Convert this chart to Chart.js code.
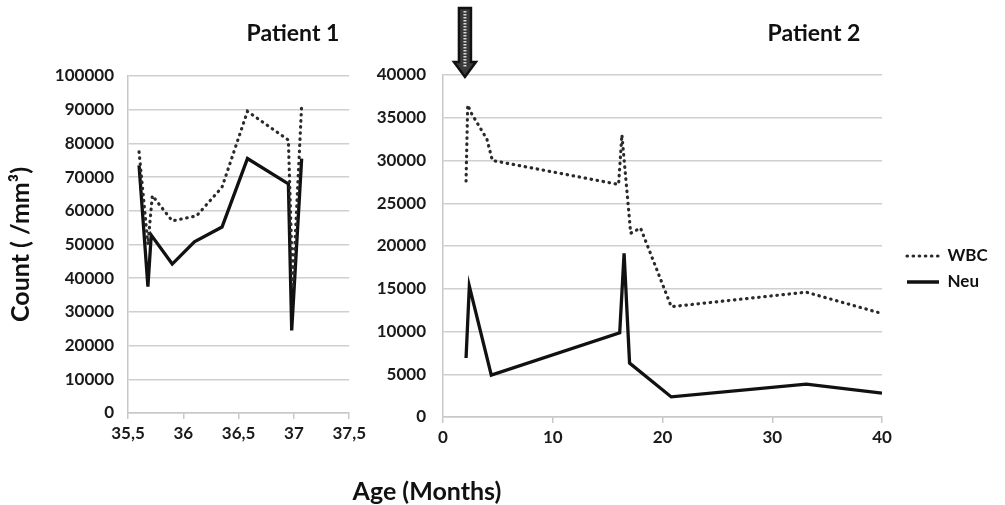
<!DOCTYPE html>
<html>
<head>
<meta charset="utf-8">
<script src="https://cdn.jsdelivr.net/npm/chart.js@4.4.1/dist/chart.umd.min.js"></script>
<style>
  html,body{margin:0;padding:0;background:#fff;}
  #wrap{position:relative;width:1005px;height:505px;overflow:hidden;font-family:Lato,'Open Sans',sans-serif;}
  .box{position:absolute;top:0;height:505px;}
  .lbl{position:absolute;font-weight:700;color:#111;white-space:nowrap;transform:translate(-50%,-50%);}
</style>
</head>
<body>
<div id="wrap">
  <div class="box" style="left:0;width:370px"><canvas id="c1" width="370" height="505"></canvas></div>
  <div class="box" style="left:370px;width:635px"><canvas id="c2" width="635" height="505"></canvas></div>
  <div class="lbl" style="left:293px;top:32px;font-size:23px">Patient 1</div>
  <div class="lbl" style="left:814px;top:32px;font-size:23px">Patient 2</div>
  <div class="lbl" style="left:427px;top:490px;font-size:25px">Age (Months)</div>
</div>
<script>
// ===== DATA =====
// Patient 1 (age in months)
const p1WbcAge = [35.6, 35.68, 35.72, 35.9, 36.12, 36.35, 36.58, 36.95, 36.99, 37.07];
const p1Wbc    = [77500, 50000, 64500, 57000, 58500, 67000, 89500, 81000, 37000, 91500];
const p1NeuAge = [35.6, 35.68, 35.71, 35.9, 36.1, 36.35, 36.58, 36.95, 36.98, 37.07];
const p1Neu    = [73500, 37500, 52800, 44200, 50800, 55200, 75500, 68000, 24500, 75500];

// Patient 2 (months)
const p2WbcAge = [2.1, 2.25, 2.6, 4.0, 4.5, 16.0, 16.3, 17.1, 18.0, 20.8, 33.1, 40];
const p2Wbc    = [27600, 36500, 35500, 32500, 30000, 27200, 33000, 21500, 22100, 12900, 14600, 12100];
const p2NeuAge = [2.1, 2.4, 4.4, 16.1, 16.5, 17.0, 20.8, 33.1, 40];
const p2Neu    = [6900, 15300, 4900, 9850, 19150, 6300, 2350, 3850, 2800];

const arrowAt = 2; // treatment marker on patient 2

// ===== HELPERS =====
const FONT = 'Lato';
const DOTS = [0.5, 5.6];
const pts = (xs, ys) => xs.map((x, i) => ({x, y: ys[i]}));
function wbcDs(data){
  return {label:'WBC', data, borderColor:'#2a2a2a', backgroundColor:'#2a2a2a', borderWidth:3.2,
          borderDash:DOTS, borderCapStyle:'round', pointRadius:0, tension:0, fill:false};
}
function neuDs(data){
  return {label:'Neu', data, borderColor:'#111', backgroundColor:'#111', borderWidth:3.3,
          pointRadius:0, tension:0, fill:false};
}
function scales(xmin, xmax, xstep, ymax, ystep, yw, ypad, ytitle){
  const tickFont = {family:FONT, size:17, weight:'bold'};
  return {
    x:{type:'linear', min:xmin, max:xmax,
       ticks:{stepSize:xstep, color:'#1a1a1a', font:tickFont, padding:4,
              callback:v=>String(v).replace('.', ',')},
       grid:{drawOnChartArea:false, drawTicks:true, tickLength:6, color:'#c8c8c8', lineWidth:1.5},
       border:{display:true, color:'#c8c8c8', width:1.5},
       afterFit:s=>{s.height = 40;}},
    y:{min:0, max:ymax,
       ticks:{stepSize:ystep, color:'#1a1a1a', font:tickFont, padding:ypad, callback:v=>String(v)},
       grid:{drawTicks:false, color:'#cfcfcf', lineWidth:1.5},
       border:{display:true, color:'#c8c8c8', width:1.5},
       title: ytitle ? {display:true, text:ytitle, color:'#111', font:{family:FONT, size:25, weight:'bold'}, padding:{top:2,bottom:0}} : {display:false},
       afterFit:s=>{s.width = yw;}}
  };
}

// ===== CHART 1 =====
new Chart(document.getElementById('c1'), {
  type:'line',
  data:{datasets:[wbcDs(pts(p1WbcAge,p1Wbc)), neuDs(pts(p1NeuAge,p1Neu))]},
  options:{
    responsive:false, animation:false, events:[],
    layout:{padding:{left:4, top:76, right:19, bottom:52}},
    plugins:{legend:{display:false}, tooltip:{enabled:false}},
    scales:scales(35.5, 37.5, 0.5, 100000, 10000, 124, 14, 'Count ( /mm³)')
  }
});

// ===== CHART 2 =====
const arrowPlugin = {
  id:'arrow',
  afterDraw(chart){
    const ctx = chart.ctx, cx = chart.scales.x.getPixelForValue(arrowAt);
    const top = 8, neck = 62, tip = 77, sw = 6, hw = 11;
    ctx.save();
    ctx.beginPath();
    ctx.moveTo(cx-sw, top); ctx.lineTo(cx+sw, top); ctx.lineTo(cx+sw, neck);
    ctx.lineTo(cx+hw, neck); ctx.lineTo(cx, tip); ctx.lineTo(cx-hw, neck);
    ctx.lineTo(cx-sw, neck); ctx.closePath();
    ctx.fillStyle = '#3a3a3a'; ctx.fill();
    ctx.lineWidth = 2.5; ctx.strokeStyle = '#111'; ctx.lineJoin = 'miter'; ctx.stroke();
    // hatched core
    ctx.strokeStyle = '#d8d8d8'; ctx.lineWidth = 3; ctx.setLineDash([1.5,1.5]);
    ctx.beginPath(); ctx.moveTo(cx, top+3); ctx.lineTo(cx, neck+5); ctx.stroke();
    ctx.restore();
  }
};
const legendShift = {
  id:'legendShift',
  afterLayout(chart){
    const lg = chart.legend; if(!lg) return;
    const w = lg.right - lg.left;
    lg.left = 528; lg.right = 528 + w;
    lg.top += 3; lg.bottom += 3;
  }
};
const c2 = new Chart(document.getElementById('c2'), {
  type:'line',
  data:{datasets:[wbcDs(pts(p2WbcAge,p2Wbc)), neuDs(pts(p2NeuAge,p2Neu))]},
  options:{
    responsive:false, animation:false, events:[],
    layout:{padding:{left:0, top:75, right:28, bottom:48}},
    plugins:{
      tooltip:{enabled:false},
      legend:{position:'right',
        labels:{usePointStyle:true, pointStyle:'line', pointStyleWidth:32, boxHeight:14,
                color:'#111', padding:9, font:{family:FONT, size:17, weight:'bold'},
                generateLabels(chart){
                  const items = Chart.defaults.plugins.legend.labels.generateLabels(chart);
                  items.forEach(it=>{
                    const d = chart.data.datasets[it.datasetIndex];
                    it.lineDash = d.borderDash || [];
                    it.lineCap = d.borderCapStyle || 'butt';
                    it.lineWidth = d.borderWidth;
                  });
                  return items;
                }}}
    },
    scales:scales(0, 40, 10, 40000, 5000, 73, 17, null)
  },
  plugins:[arrowPlugin, legendShift]
});
// keep plot right edge at x=512 in this canvas whatever the legend width is
const lw = c2.legend.width;
c2.options.layout.padding.right = Math.max(0, 635 - 512 - lw);
c2.update();
</script>
</body>
</html>
